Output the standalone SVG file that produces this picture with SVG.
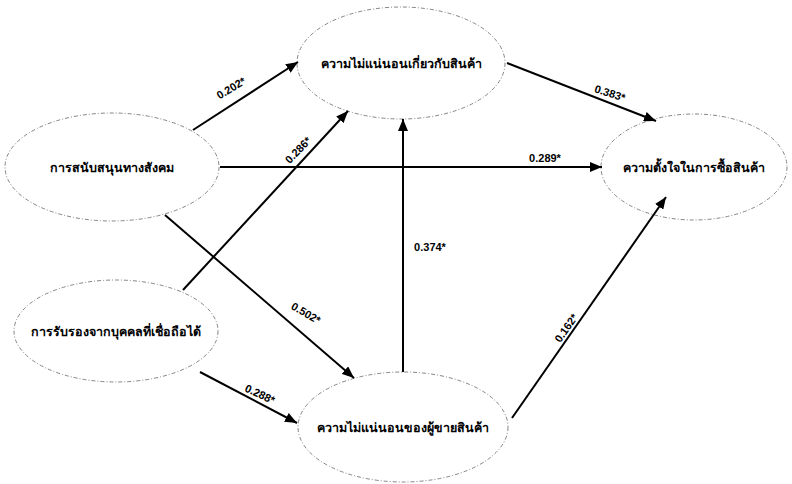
<svg xmlns="http://www.w3.org/2000/svg" width="792" height="484" viewBox="0 0 792 484">
<style>
.node ellipse{fill:#fff;stroke:#666;stroke-width:0.8;stroke-dasharray:4 2 1 2}
.node text{font-family:"Noto Sans","DejaVu Sans",sans-serif;font-size:12.5px;font-weight:bold;fill:#000;text-anchor:middle;dominant-baseline:central}
#edges line{stroke:#000;stroke-width:2;marker-end:url(#ah)}
.lbl{font-family:"Liberation Sans",Arial,sans-serif;font-size:11px;font-weight:bold;fill:#000;text-anchor:middle;dominant-baseline:central}
</style>
<defs>
<marker id="ah" viewBox="0 0 12 10" refX="12" refY="5" markerWidth="12" markerHeight="10" markerUnits="userSpaceOnUse" orient="auto">
<path d="M0,0 L12,5 L0,10 Z" fill="#000"/>
</marker>
</defs>
<rect width="792" height="484" fill="#fff"/>
<g id="n-product"  class="node"><ellipse cx="401" cy="63" rx="104" ry="56"/><text x="401" y="63">ความไม่แน่นอนเกี่ยวกับสินค้า</text></g>
<g id="n-social" class="node"><ellipse cx="112" cy="167" rx="107" ry="54"/><text x="112" y="167">การสนับสนุนทางสังคม</text></g>
<g id="n-endorse" class="node"><ellipse cx="116" cy="331" rx="102" ry="51"/><text x="116" y="331">การรับรองจากบุคคลที่เชื่อถือได้</text></g>
<g id="n-seller" class="node"><ellipse cx="403" cy="427" rx="105" ry="55"/><text x="403" y="427">ความไม่แน่นอนของผู้ขายสินค้า</text></g>
<g id="n-intent" class="node"><ellipse cx="694" cy="167" rx="93" ry="53"/><text x="694" y="167">ความตั้งใจในการซื้อสินค้า</text></g>
<g id="edges">
<line x1="193" y1="130" x2="298" y2="62"/>
<line x1="220" y1="167" x2="602" y2="167"/>
<line x1="165" y1="215" x2="354" y2="378"/>
<line x1="183" y1="290" x2="348" y2="111"/>
<line x1="200" y1="372" x2="297" y2="423"/>
<line x1="403" y1="372" x2="403" y2="119"/>
<line x1="507" y1="63" x2="656" y2="121"/>
<line x1="512" y1="418" x2="666" y2="197"/>
</g>
<g id="labels">
<text class="lbl" transform="translate(231,88) rotate(-31)">0.202*</text>
<text class="lbl" transform="translate(298,150) rotate(-46)">0.286*</text>
<text class="lbl" x="545" y="158">0.289*</text>
<text class="lbl" transform="translate(610,93) rotate(18)">0.383*</text>
<text class="lbl" x="430" y="247">0.374*</text>
<text class="lbl" transform="translate(306,313) rotate(30)">0.502*</text>
<text class="lbl" transform="translate(260,394) rotate(25)">0.288*</text>
<text class="lbl" transform="translate(566,328) rotate(-55)">0.162*</text>
</g>
</svg>
